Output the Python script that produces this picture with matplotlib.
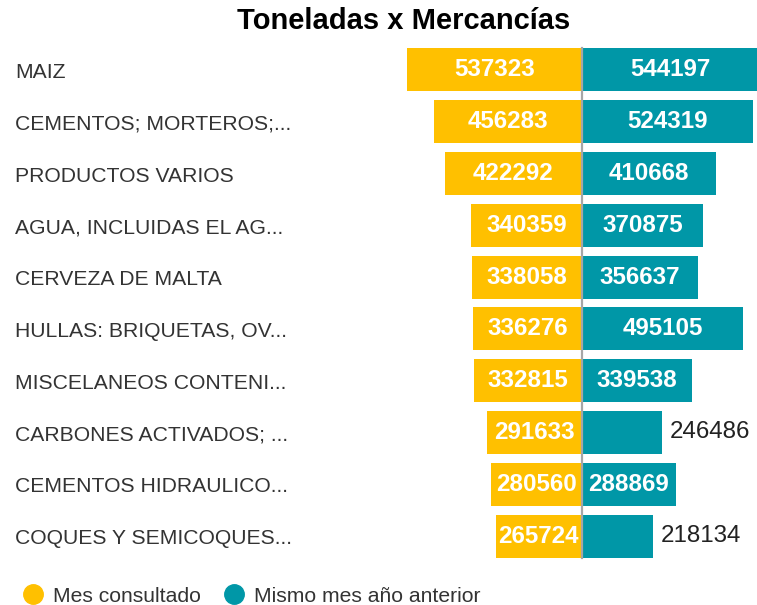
import matplotlib
matplotlib.use("Agg")
import matplotlib.pyplot as plt
from matplotlib.lines import Line2D
from matplotlib.transforms import blended_transform_factory

plt.rcParams['font.family'] = ['Liberation Sans', 'DejaVu Sans']

categorias = ["MAIZ", "CEMENTOS; MORTEROS;...", "PRODUCTOS VARIOS",
              "AGUA, INCLUIDAS EL AG...", "CERVEZA DE MALTA",
              "HULLAS: BRIQUETAS, OV...", "MISCELANEOS CONTENI...",
              "CARBONES ACTIVADOS; ...", "CEMENTOS HIDRAULICO...",
              "COQUES Y SEMICOQUES..."]
mes_consultado = [537323, 456283, 422292, 340359, 338058, 336276, 332815, 291633, 280560, 265724]
mes_anterior = [544197, 524319, 410668, 370875, 356637, 495105, 339538, 246486, 288869, 218134]

amarillo = '#FFC000'
verde = '#0097A7'
texto = '#333333'

W, H = 757, 605
fig = plt.figure(figsize=(W / 100, H / 100), dpi=100)

# ejes en pixeles: de x=400 a 757, de y=44 a 562 (desde arriba)
x0, x1, y0, y1 = 400, 757, 44, 562
ax = fig.add_axes([x0 / W, 1 - y1 / H, (x1 - x0) / W, (y1 - y0) / H])
centro = 582
escala = 3075  # unidades por pixel
ax.set_xlim(-(centro - x0) * escala, (x1 - centro) * escala)
ax.set_ylim(len(categorias) - 0.5, -0.5)
ax.axis('off')

pos = list(range(len(categorias)))
ax.barh(pos, [-v for v in mes_consultado], height=0.83, color=amarillo)
ax.barh(pos, mes_anterior, height=0.83, color=verde)
ax.plot([0, 0], [-0.43, len(categorias) - 0.57], color='#a6a6a6', linewidth=1.6, zorder=3)

limite = 85 * escala
for i in pos:
    v = mes_consultado[i]
    ax.text(-v / 2, i, str(v), ha='center', va='center', color='white',
            fontsize=17.4, fontweight='bold', zorder=4)
    v = mes_anterior[i]
    if v > limite:
        ax.text(v / 2, i, str(v), ha='center', va='center', color='white',
                fontsize=17.4, fontweight='bold', zorder=4)
    else:
        ax.text(v + 8 * escala, i, str(v), ha='left', va='center', color='#222222',
                fontsize=17.4, zorder=4)

# etiquetas de categoria a la izquierda
trans = blended_transform_factory(fig.transFigure, ax.transData)
for i, c in enumerate(categorias):
    ax.text(15 / W, i + 0.05, c, transform=trans, ha='left', va='center',
            fontsize=15.2, color=texto)

fig.text(404 / W, 1 - 21 / H, 'Toneladas x Mercancías', ha='center', va='center',
         fontsize=21, fontweight='bold', color='black')

handles = [Line2D([], [], marker='o', linestyle='none', markersize=14,
                  markerfacecolor=amarillo, markeredgecolor=amarillo),
           Line2D([], [], marker='o', linestyle='none', markersize=14,
                  markerfacecolor=verde, markeredgecolor=verde)]
fig.legend(handles, ['Mes consultado', 'Mismo mes año anterior'], ncol=2,
           loc='center left', bbox_to_anchor=(12 / W, 1 - 596 / H), frameon=False,
           fontsize=15.2, handletextpad=0.45, columnspacing=1.05, borderpad=0,
           handlelength=1.0, labelcolor=texto)

fig.savefig('out.png', dpi=100)
